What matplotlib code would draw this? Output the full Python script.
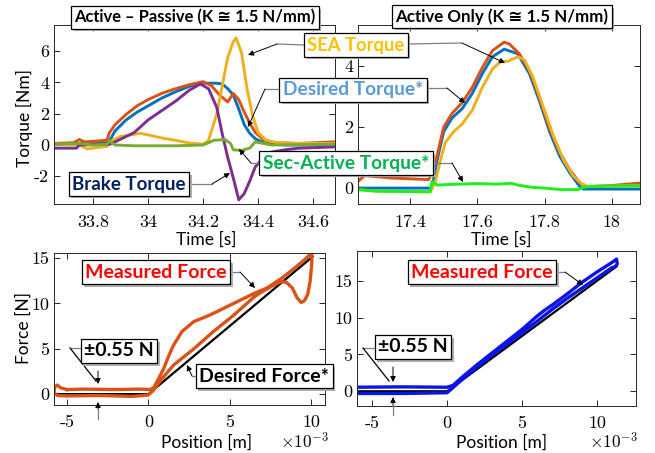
import matplotlib
matplotlib.use('Agg')
import matplotlib.pyplot as plt
from matplotlib.lines import Line2D
from matplotlib.patches import FancyArrowPatch, Rectangle

# ---------------- data ----------------
# Top-left: Active - Passive, time in s, torque in Nm
tl_des_t = [33.66, 33.75, 33.76, 33.85, 33.86, 33.88, 33.92, 33.96, 34.0, 34.05, 34.1, 34.15, 34.19,
            34.25, 34.27, 34.29, 34.31, 34.33, 34.35, 34.37, 34.39, 34.42, 34.45, 34.5, 34.68]
tl_des_y = [0.05, 0.05, 0.15, 0.15, 0.25, 0.9, 1.6, 2.1, 2.5, 3.0, 3.4, 3.75, 3.95,
            3.95, 3.9, 3.6, 3.2, 2.3, 1.3, 0.75, 0.4, 0.15, 0.05, 0.0, 0.0]

tl_sea_t = [33.66, 33.75, 33.78, 33.82, 33.85, 33.87, 33.9, 33.94, 33.97, 34.0, 34.05, 34.1, 34.15, 34.2,
            34.22, 34.25, 34.27, 34.29, 34.31, 34.32, 34.34, 34.36, 34.38, 34.4, 34.43, 34.47, 34.55, 34.68]
tl_sea_y = [0.05, 0.0, -0.25, -0.15, -0.1, 0.3, 0.55, 0.65, 0.75, 0.65, 0.45, 0.3, 0.13, 0.05,
            0.3, 2.0, 3.8, 5.6, 6.6, 6.85, 5.9, 3.6, 1.9, 0.8, 0.3, 0.15, 0.1, 0.1]

tl_act_t = [33.66, 33.73, 33.75, 33.77, 33.85, 33.86, 33.88, 33.92, 33.96, 34.0, 34.05, 34.1, 34.15,
            34.2, 34.23, 34.26, 34.29, 34.31, 34.33, 34.35, 34.37, 34.39, 34.42, 34.46, 34.55, 34.68]
tl_act_y = [0.1, 0.15, 0.35, 0.2, 0.3, 0.8, 1.3, 1.95, 2.5, 2.9, 3.3, 3.6, 3.85,
            4.05, 3.8, 3.2, 2.75, 3.3, 2.9, 2.1, 1.4, 0.8, 0.35, 0.15, 0.1, 0.2]

tl_brk_t = [33.66, 33.74, 33.75, 33.86, 33.88, 33.95, 34.0, 34.1, 34.15, 34.19, 34.22, 34.25, 34.27,
            34.29, 34.31, 34.33, 34.35, 34.37, 34.39, 34.42, 34.45, 34.5, 34.55, 34.68]
tl_brk_y = [-0.2, -0.2, 0.0, 0.05, 0.2, 0.8, 1.6, 2.8, 3.5, 3.9, 3.6, 2.4, 0.7,
            -0.8, -2.1, -3.5, -3.1, -2.3, -1.4, -0.8, -0.45, -0.3, -0.2, -0.12]

tl_sec_t = [33.66, 33.75, 33.8, 33.85, 33.86, 33.88, 33.95, 34.1, 34.2, 34.24, 34.28, 34.3, 34.31,
            34.34, 34.37, 34.39, 34.42, 34.45, 34.68]
tl_sec_y = [0.05, 0.1, 0.0, 0.05, 0.25, 0.0, -0.05, -0.05, 0.0, 0.3, 0.35, 0.1, -0.3,
            -0.35, -0.2, 0.2, 0.1, 0.0, 0.05]

# Top-right: Active only
tr_des_t = [17.245, 17.465, 17.48, 17.5, 17.525, 17.555, 17.585, 17.615, 17.645, 17.68, 17.72, 17.755,
            17.785, 17.815, 17.845, 17.875, 17.905, 17.915, 18.09]
tr_des_y = [0.0, 0.0, 0.9, 1.85, 2.3, 2.6, 3.1, 3.75, 4.3, 4.55, 4.4, 3.75,
            2.85, 1.85, 1.05, 0.5, 0.05, -0.03, -0.03]

tr_act_t = [17.245, 17.265, 17.345, 17.455, 17.465, 17.48, 17.5, 17.525, 17.555, 17.585, 17.615, 17.645,
            17.68, 17.695, 17.725, 17.755, 17.785, 17.815, 17.845, 17.875, 17.905, 17.925, 17.995, 18.09]
tr_act_y = [0.22, 0.41, 0.33, 0.28, 0.5, 1.05, 2.0, 2.45, 2.8, 3.3, 3.95, 4.5,
            4.78, 4.72, 4.4, 3.85, 2.95, 1.95, 1.17, 0.6, 0.17, 0.05, 0.08, 0.17]

tr_sea_t = [17.245, 17.3, 17.46, 17.475, 17.49, 17.505, 17.53, 17.555, 17.585, 17.615, 17.645, 17.67,
            17.69, 17.72, 17.74, 17.765, 17.795, 17.825, 17.855, 17.885, 17.91, 17.93, 18.09]
tr_sea_y = [-0.05, -0.1, -0.12, 0.2, 0.9, 1.5, 1.85, 2.1, 2.55, 3.3, 3.9, 4.15,
            4.15, 4.3, 4.2, 3.65, 2.7, 1.75, 0.95, 0.4, 0.15, 0.05, 0.08]

tr_sec_t = [17.245, 17.3, 17.46, 17.465, 17.48, 17.52, 17.6, 17.66, 17.7, 17.72, 17.76, 17.8,
            17.85, 17.9, 17.915, 17.95, 18.09]
tr_sec_y = [-0.05, -0.1, -0.12, 0.22, 0.1, 0.12, 0.15, 0.13, 0.16, 0.1, 0.03, 0.0,
            -0.05, -0.05, 0.03, 0.06, 0.08]

# Bottom-left: force vs position (mm, shown with x10^-3), Active - Passive
bl_des_x = [-5.8, 0.0, 10.1]
bl_des_f = [0.0, 0.0, 15.15]
bl_meas_x = [-5.0, -4.0, -2.0, -0.5, 0.1, 0.33, 0.6, 0.94, 1.25, 1.55, 2.07, 2.8, 3.5, 4.0, 5.25, 6.5,
             7.3, 8.3, 9.0, 9.6, 9.95, 10.05, 10.05, 9.95, 9.8, 9.6, 9.4, 9.15, 8.85, 8.5, 8.2, 7.8,
             7.0, 6.5, 5.25, 4.0, 2.8, 1.55, 0.8, 0.3, 0.0, -1.0, -3.0, -5.0, -5.6, -5.8, -5.75,
             -5.6, -5.4, -5.0]
bl_meas_f = [0.5, 0.55, 0.5, 0.55, 0.5, 0.7, 1.6, 2.8, 4.2, 5.4, 6.9, 8.0, 8.5, 8.9, 10.0, 11.1,
             11.7, 12.9, 13.9, 14.8, 15.4, 15.6, 14.5, 12.5, 11.0, 10.3, 10.1, 10.6, 11.7, 12.3, 12.4, 12.1,
             11.3, 10.7, 8.7, 6.9, 5.0, 3.2, 1.6, 0.4, -0.1, -0.25, -0.15, -0.2, -0.15, 0.2, 0.8,
             1.0, 0.7, 0.5]

# Bottom-right: Active only
br_des_x = [-6.0, 0.0, 11.3]
br_des_f = [0.0, 0.0, 16.95]
br_meas_x = [-6.0, -3.0, 0.0, 0.4, 1.0, 2.0, 3.0, 4.0, 5.0, 6.0, 6.5, 7.0, 8.0, 9.0, 10.0, 11.0, 11.3,
             11.35, 11.2, 11.0, 10.0, 9.0, 8.0, 7.0, 6.0, 5.0, 4.0, 3.0, 2.0, 1.0, 0.4, 0.0, -3.0, -6.0]
br_meas_f = [0.55, 0.6, 0.55, 0.8, 1.9, 3.6, 5.2, 6.8, 8.4, 10.2, 11.0, 11.7, 13.2, 14.8, 16.2, 17.5, 17.95,
             17.3, 16.9, 16.8, 15.4, 14.0, 12.6, 11.1, 9.5, 7.9, 6.4, 4.9, 3.3, 1.6, 0.5, -0.2, -0.3, -0.3]

# ---------------- style ----------------
W, H = 655, 453
plt.rcParams['mathtext.fontset'] = 'cm'
plt.rcParams['axes.unicode_minus'] = False
SANS = ['Lato', 'DejaVu Sans']
plt.rcParams['font.family'] = SANS

C_BLUE = '#0072BD'
C_RED = '#D95319'
C_YEL = '#EDB120'
C_PUR = '#7E2F8E'
C_GRN = '#77AC30'
C_LIME = '#1EF01E'
C_BLU2 = '#0A14E6'
AX_COL = '#262626'

fig = plt.figure(figsize=(W / 100, H / 100), dpi=100)


def fx(px):
    return px / W


def fy(py):
    return 1 - py / H


def make_axes(l, t, r, b, xlim, ylim, xticks, yticks, xpad):
    ax = fig.add_axes([l / W, 1 - b / H, (r - l) / W, (b - t) / H])
    ax.set_xlim(*xlim)
    ax.set_ylim(*ylim)
    ax.set_xticks(xticks)
    ax.set_yticks(yticks)
    ax.tick_params(direction='in', top=True, right=True, length=4, width=0.7, colors=AX_COL,
                   labelsize=13, labelfontfamily='cmr10', labelcolor='black')
    ax.tick_params(axis='x', pad=xpad)
    ax.tick_params(axis='y', pad=3.5)
    for s in ax.spines.values():
        s.set_linewidth(0.7)
        s.set_color(AX_COL)
    return ax


LW = 2.1
ax1 = make_axes(54, 25, 335, 204, (33.658, 34.68), (-3.77, 7.67),
                [33.8, 34.0, 34.2, 34.4, 34.6], [-2, 0, 2, 4, 6], 8)
ax1.set_xticklabels(['33.8', '34', '34.2', '34.4', '34.6'])
ax1.plot(tl_des_t, tl_des_y, color=C_BLUE, lw=LW)
ax1.plot(tl_act_t, tl_act_y, color=C_RED, lw=LW)
ax1.plot(tl_sea_t, tl_sea_y, color=C_YEL, lw=LW)
ax1.plot(tl_brk_t, tl_brk_y, color=C_PUR, lw=LW)
ax1.plot(tl_sec_t, tl_sec_y, color=C_GRN, lw=LW)

ax2 = make_axes(358, 25, 640, 204, (17.245, 18.084), (-0.52, 5.34),
                [17.4, 17.6, 17.8, 18.0], [0, 2, 4], 8)
ax2.set_xticklabels(['17.4', '17.6', '17.8', '18'])
ax2.plot(tr_des_t, tr_des_y, color=C_BLUE, lw=LW)
ax2.plot(tr_act_t, tr_act_y, color=C_RED, lw=LW)
ax2.plot(tr_sea_t, tr_sea_y, color=C_YEL, lw=LW)
ax2.plot(tr_sec_t, tr_sec_y, color=C_LIME, lw=LW)

ax3 = make_axes(54, 253, 325, 405, (-5.8, 10.86), (-1.2, 15.55),
                [-5, 0, 5, 10], [0, 5, 10, 15], 7)
ax3.plot(bl_des_x, bl_des_f, color='black', lw=1.6)
ax3.plot(bl_meas_x, bl_meas_f, color=C_RED, lw=2.4)

ax4 = make_axes(357, 251, 636, 406, (-6.0, 12.6), (-2.0, 19.05),
                [-5, 0, 5, 10], [0, 5, 10, 15], 7)
ax4.plot(br_des_x, br_des_f, color='black', lw=1.6)
ax4.plot(br_meas_x, br_meas_f, color=C_BLU2, lw=2.4)

# axis labels
LBL = dict(fontsize=12.5, family=SANS, ha='center', va='center')
fig.text(fx(24), fy(118), 'Torque [Nm]', rotation=90, **LBL)
fig.text(fx(206), fy(240), 'Time [s]', **LBL)
fig.text(fx(501), fy(240), 'Time [s]', **LBL)
fig.text(fx(24), fy(328), 'Force [N]', rotation=90, **LBL)
fig.text(fx(207), fy(443), 'Position [m]', **LBL)
fig.text(fx(502), fy(443), 'Position [m]', **LBL)
fig.text(fx(329), fy(441), r'$\times10^{-3}$', fontsize=12.5, ha='right', va='center')
fig.text(fx(638), fy(441), r'$\times10^{-3}$', fontsize=12.5, ha='right', va='center')

boxed_texts = []


def boxed(cx, cy, text, color, size=13.5):
    t = fig.text(fx(cx), fy(cy), text, color=color, fontsize=size, fontweight='bold', family=SANS,
                 ha='center', va='center', zorder=20,
                 bbox=dict(boxstyle='square,pad=0.18', fc='white', ec='black', lw=0.9))
    boxed_texts.append(t)


def connector(pts, target=None, gray=True):
    xs = [fx(p[0]) for p in pts]
    ys = [fy(p[1]) for p in pts]
    fig.add_artist(Line2D(xs, ys, transform=fig.transFigure, color='#7F7F7F' if gray else 'black',
                          lw=0.9, zorder=15))
    if target is not None:
        fig.add_artist(FancyArrowPatch((xs[-1], ys[-1]), (fx(target[0]), fy(target[1])),
                                       transform=fig.transFigure, arrowstyle='-|>',
                                       mutation_scale=8, color='black', lw=0.7,
                                       shrinkA=0, shrinkB=0, zorder=15))


# titles
boxed(195, 17.5, 'Active \u2013 Passive (K \u2245 1.5 N/mm)', 'black', 11.9)
boxed(502, 16.5, 'Active Only (K \u2245 1.5 N/mm)', 'black', 12.2)

# top annotations
connector([(304, 45), (277, 44)], (248, 55))
connector([(408, 44), (462, 43)], (505, 63))
boxed(356, 45, 'SEA Torque', '#FFC000', 13.2)
connector([(282, 89), (265, 89)], (248, 127))
connector([(425, 88), (447, 88)], (465, 103))
boxed(353, 90, 'Desired Torque*', '#5B9BD5', 13.8)
connector([(263, 163), (251, 163)], (239, 149))
connector([(428, 163), (452, 163)], (463, 182))
boxed(346, 163, 'Sec-Active Torque*', '#00B050', 13.8)
connector([(188, 184), (212, 184)], (230, 173))
boxed(129, 184, 'Brake Torque', '#002060', 13.5)

# bottom-left annotations
connector([(230, 272), (240, 272)], (255, 288))
boxed(156, 272, 'Measured Force', '#FF0000', 14)
connector([(81, 348), (70, 348)])
connector([(70, 348), (96, 381)], gray=False)
connector([(98, 371), (98, 371)], (98, 384))
connector([(98, 419), (98, 409)], (98, 402))
boxed(119, 351, '\u00b10.55 N', 'black', 14)
connector([(200, 376), (192, 376)], (187, 365))
boxed(264, 376, 'Desired Force*', 'black', 14)

# bottom-right annotations
connector([(555, 272), (565, 272)], (583, 285))
boxed(482, 272, 'Measured Force', '#FF0000', 14)
connector([(374, 348), (363, 348)])
connector([(363, 348), (389, 381)], gray=False)
connector([(393, 367), (393, 367)], (393, 382))
connector([(393, 415), (393, 405)], (393, 397))
boxed(413, 347, '\u00b10.55 N', 'black', 14)

# drop shadows behind the boxes
fig.canvas.draw()
renderer = fig.canvas.get_renderer()
for t in boxed_texts:
    bb = t.get_bbox_patch().get_window_extent(renderer)
    fig.add_artist(Rectangle(((bb.x0 + 2.5) / W, (bb.y0 - 2.5) / H), bb.width / W, bb.height / H,
                             transform=fig.transFigure, fc='#B0B0B0', ec='none', zorder=19))

fig.savefig('out.png', dpi=100)
